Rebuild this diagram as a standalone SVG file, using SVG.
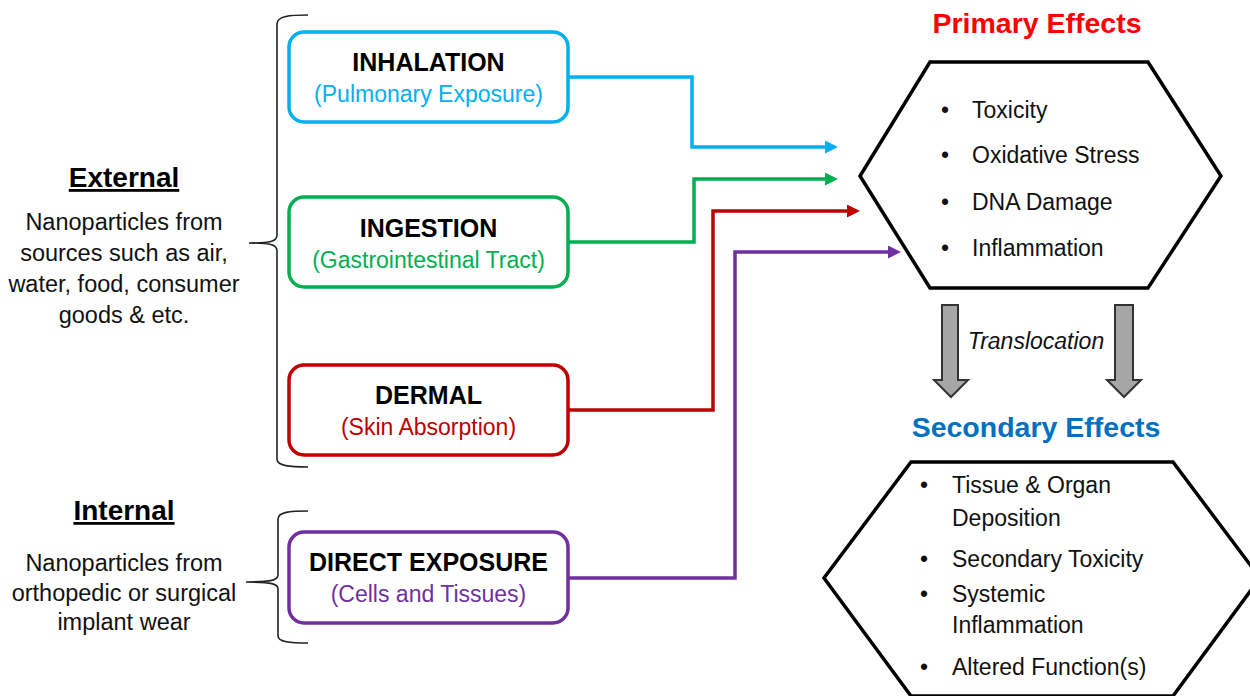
<svg xmlns="http://www.w3.org/2000/svg" width="1250" height="696" viewBox="0 0 1250 696">
<defs>
<style>
.t{font-family:"Liberation Sans",Arial,sans-serif;}
.h{font-weight:bold;font-size:25px;fill:#000;text-anchor:middle;}
.s{font-size:23px;text-anchor:middle;}
.box{fill:#fff;stroke-width:3.5;}
.c{fill:none;stroke-width:3.5;}
.b{font-size:23px;fill:#111;}
.l{font-size:23.5px;fill:#111;text-anchor:middle;}
.brace{fill:none;stroke:#222;stroke-width:1.6;}
.hex{fill:#fff;stroke:#000;stroke-width:3.5;stroke-linejoin:miter;}
.gray{fill:#A6A6A6;stroke:#333;stroke-width:2;}
</style>
<marker id="aB" markerUnits="userSpaceOnUse" markerWidth="14" markerHeight="14" refX="3" refY="6.5" orient="auto"><path d="M0,0 L13,6.5 L0,13 z" fill="#00B0F0"/></marker>
<marker id="aG" markerUnits="userSpaceOnUse" markerWidth="14" markerHeight="14" refX="3" refY="6.5" orient="auto"><path d="M0,0 L13,6.5 L0,13 z" fill="#00B050"/></marker>
<marker id="aR" markerUnits="userSpaceOnUse" markerWidth="14" markerHeight="14" refX="3" refY="6.5" orient="auto"><path d="M0,0 L13,6.5 L0,13 z" fill="#C00000"/></marker>
<marker id="aP" markerUnits="userSpaceOnUse" markerWidth="14" markerHeight="14" refX="3" refY="6.5" orient="auto"><path d="M0,0 L13,6.5 L0,13 z" fill="#7030A0"/></marker>
</defs>
<rect width="1250" height="696" fill="#fff"/>

<g id="external" class="t">
<text x="124" y="187" font-size="28" font-weight="bold" text-anchor="middle" text-decoration="underline">External</text>
<text class="l" x="124" y="230">Nanoparticles from</text>
<text class="l" x="124" y="261">sources such as air,</text>
<text class="l" x="124" y="292">water, food, consumer</text>
<text class="l" x="124" y="323">goods &amp; etc.</text>
<path class="brace" d="M308 15 C290 15 277 16 277 24 L277 235 C277 241 272 243 249 243 C272 243 277 245 277 251 L277 459 C277 466 290 467 308 467"/>
</g>

<g id="internal" class="t">
<text x="124" y="520" font-size="28" font-weight="bold" text-anchor="middle" text-decoration="underline">Internal</text>
<text class="l" x="124" y="571">Nanoparticles from</text>
<text class="l" x="124" y="601">orthopedic or surgical</text>
<text class="l" x="124" y="630">implant wear</text>
<path class="brace" d="M308 511 C290 511 278 512 278 519 L278 575 C278 580 272 582 246 582 C272 582 278 584 278 589 L278 636 C278 642 290 643 308 643"/>
</g>

<g id="inhalation" class="t">
<rect class="box" x="289" y="32" width="279" height="90" rx="15" stroke="#00B0F0"/>
<text class="h" x="428.5" y="71">INHALATION</text>
<text class="s" x="428.5" y="102" fill="#00B0F0">(Pulmonary Exposure)</text>
</g>

<g id="ingestion" class="t">
<rect class="box" x="289" y="197" width="279" height="90" rx="15" stroke="#00B050"/>
<text class="h" x="428.5" y="237">INGESTION</text>
<text class="s" x="428.5" y="268" fill="#00B050">(Gastrointestinal Tract)</text>
</g>

<g id="dermal" class="t">
<rect class="box" x="289" y="365" width="279" height="90" rx="15" stroke="#C00000"/>
<text class="h" x="428.5" y="404">DERMAL</text>
<text class="s" x="428.5" y="435" fill="#C00000">(Skin Absorption)</text>
</g>

<g id="direct" class="t">
<rect class="box" x="289" y="532" width="279" height="91" rx="15" stroke="#7030A0"/>
<text class="h" x="428.5" y="571">DIRECT EXPOSURE</text>
<text class="s" x="428.5" y="602" fill="#7030A0">(Cells and Tissues)</text>
</g>

<g id="connectors">
<path class="c" stroke="#00B0F0" d="M568 77 L692 77 L692 147 L828 147" marker-end="url(#aB)"/>
<path class="c" stroke="#00B050" d="M568 242 L694 242 L694 179 L828 179" marker-end="url(#aG)"/>
<path class="c" stroke="#C00000" d="M568 410 L713 410 L713 211 L850 211" marker-end="url(#aR)"/>
<path class="c" stroke="#7030A0" d="M568 578 L735 578 L735 252 L891 252" marker-end="url(#aP)"/>
</g>

<g id="primary" class="t">
<text x="1037" y="33" font-size="28.5" font-weight="bold" fill="#FF0000" text-anchor="middle">Primary Effects</text>
<polygon class="hex" points="930,62 1148,62 1221,176 1148,288 930,288 860,176"/>
<text class="b" x="941" y="118">•</text><text class="b" x="972" y="118">Toxicity</text>
<text class="b" x="941" y="163">•</text><text class="b" x="972" y="163">Oxidative Stress</text>
<text class="b" x="941" y="210">•</text><text class="b" x="972" y="210">DNA Damage</text>
<text class="b" x="941" y="256">•</text><text class="b" x="972" y="256">Inflammation</text>
</g>

<g id="translocation" class="t">
<polygon class="gray" points="942,305 958,305 958,380 968,380 951,397 934,380 942,380"/>
<polygon class="gray" points="1115,305 1133,305 1133,380 1141,380 1124,397 1107,380 1115,380"/>
<text x="1036" y="349" font-size="23" font-style="italic" fill="#111" text-anchor="middle">Translocation</text>
</g>

<g id="secondary" class="t">
<text x="1036" y="437" font-size="28.5" font-weight="bold" fill="#0070C0" text-anchor="middle">Secondary Effects</text>
<polygon class="hex" points="911,462 1173,462 1260,578 1173,696 911,696 824,578"/>
<text class="b" x="920" y="493">•</text><text class="b" x="952" y="493">Tissue &amp; Organ</text>
<text class="b" x="952" y="526">Deposition</text>
<text class="b" x="920" y="567">•</text><text class="b" x="952" y="567">Secondary Toxicity</text>
<text class="b" x="920" y="602">•</text><text class="b" x="952" y="602">Systemic</text>
<text class="b" x="952" y="633">Inflammation</text>
<text class="b" x="920" y="675">•</text><text class="b" x="952" y="675">Altered Function(s)</text>
</g>
</svg>
